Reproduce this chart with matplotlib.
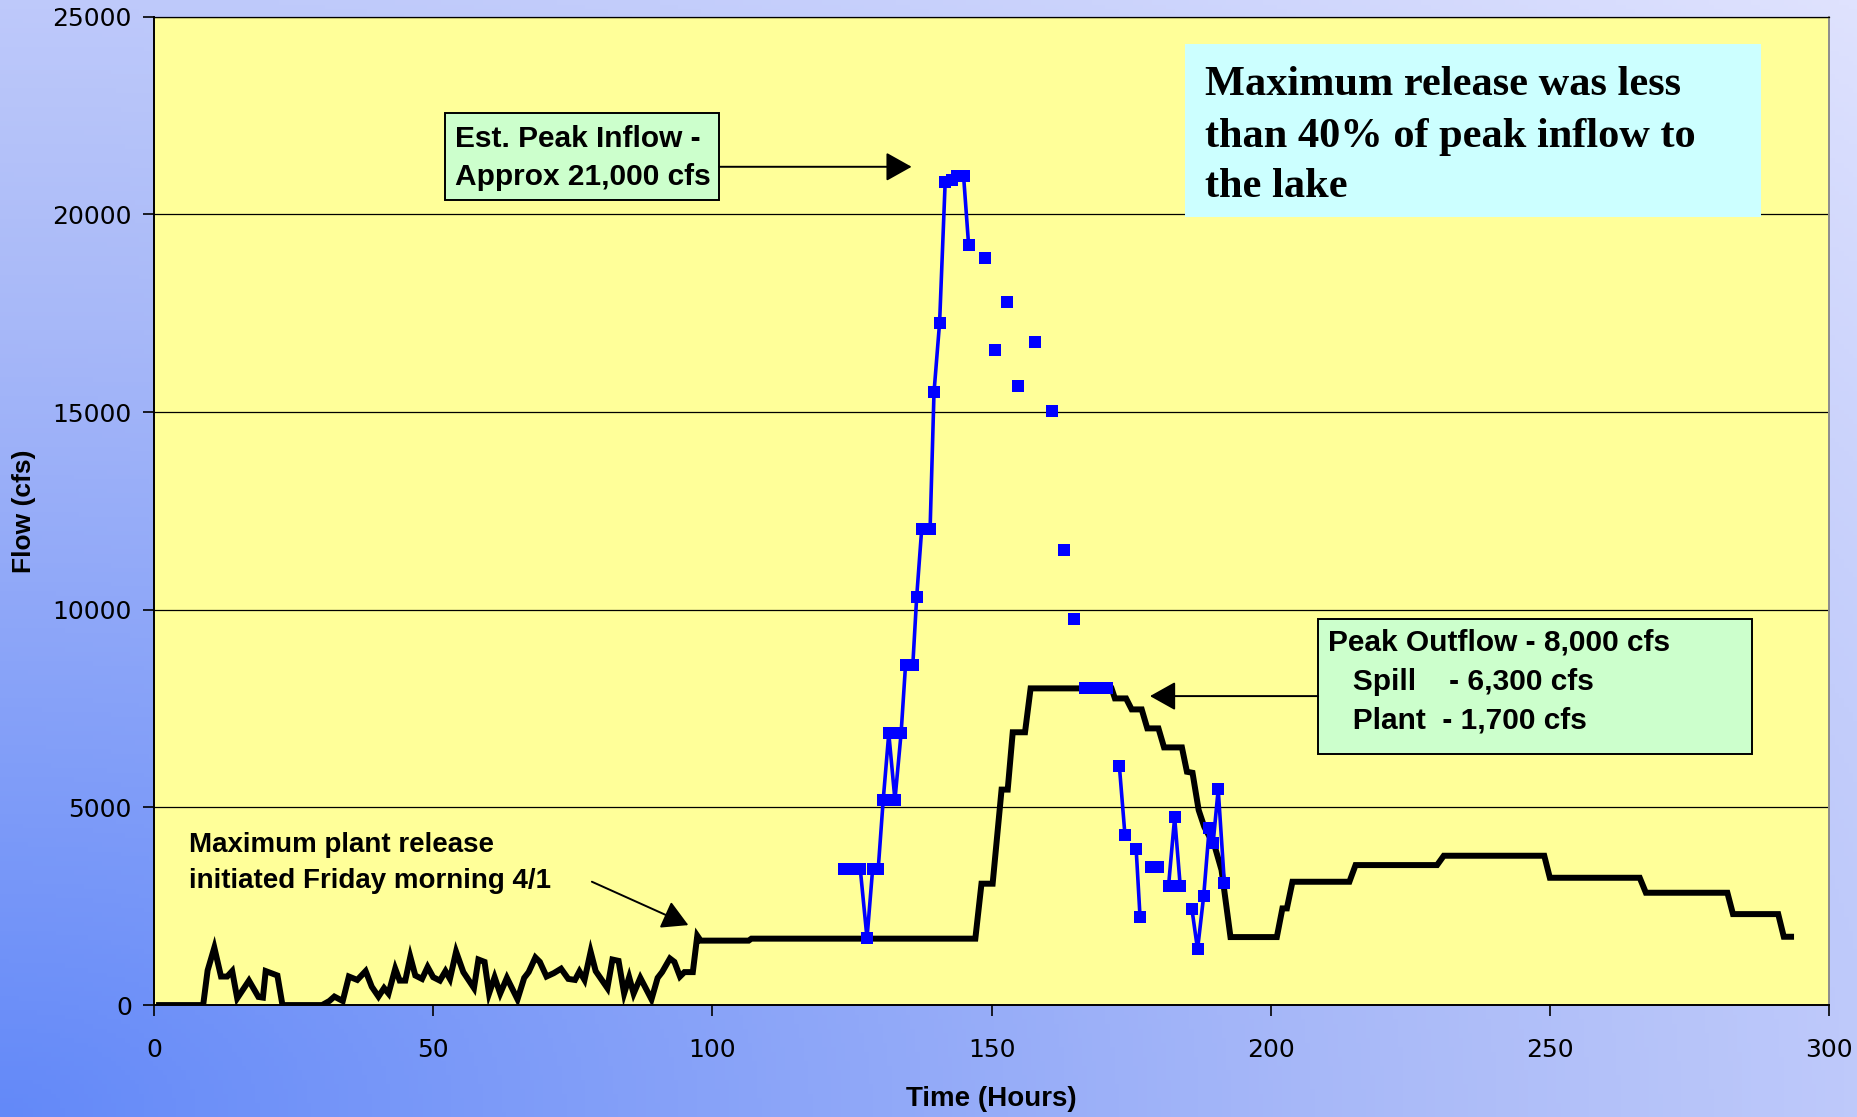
"""Lake inflow vs. outflow hydrograph with annotation boxes."""

from __future__ import annotations

import matplotlib

matplotlib.use("Agg")

import matplotlib.pyplot as plt
import numpy as np
from matplotlib.colors import LinearSegmentedColormap
from matplotlib.patches import Rectangle

# Outflow (plant + spill), hours vs cfs
outflow_hours = [
    0.9, 8.8, 9.6, 10.8, 12.0, 13.1, 14.0, 14.9, 17.0, 18.7, 19.5, 20.0, 22.1, 23.0,
    30.1, 31.4, 32.3, 33.8, 34.9, 36.4, 37.9, 39.0, 40.2, 41.2, 42.0, 43.2, 44.0, 45.0,
    45.9, 46.8, 48.0, 49.0, 50.0, 51.2, 52.2, 53.0, 54.1, 55.4, 57.3, 58.1, 59.2, 60.0,
    61.0, 62.0, 63.2, 65.1, 66.3, 67.1, 68.3, 69.1, 70.3, 71.6, 72.9, 74.2, 75.4, 76.2,
    77.1, 78.2, 79.1, 81.2, 82.1, 83.2, 84.2, 85.1, 85.9, 87.1, 89.1, 90.2, 91.0, 92.4,
    93.2, 94.2, 95.0, 96.5, 97.3, 97.9, 106.5, 107.0, 147.1, 148.2, 150.2, 151.8, 152.9,
    153.8, 156.0, 157.0, 171.5, 172.1, 174.1, 175.1, 176.9, 177.9, 179.9, 180.9, 184.1,
    185.0, 186.0, 187.1, 188.1, 190.0, 191.2, 192.8, 201.1, 202.1, 202.9, 203.9, 214.1,
    215.2, 229.8, 231.0, 249.0, 250.0, 266.1, 267.2, 281.8, 282.8, 290.9, 291.9, 293.2,
]
outflow_cfs = [
    0, 0, 877, 1453, 722, 722, 860, 172, 619, 206, 189, 860, 748, 0,
    0, 103, 215, 103, 722, 636, 860, 464, 215, 430, 292, 920, 619, 619,
    1221, 748, 662, 963, 705, 619, 860, 662, 1350, 834, 430, 1152, 1092, 292,
    705, 292, 688, 146, 688, 834, 1204, 1092, 722, 808, 920, 662, 636, 851,
    636, 1350, 860, 430, 1152, 1118, 292, 705, 292, 688, 146, 688, 834, 1178,
    1092, 722, 834, 834, 1754, 1630, 1630, 1680, 1680, 3070, 3070, 5450, 5450,
    6900, 6900, 8010, 8010, 7756, 7756, 7478, 7478, 6998, 6998, 6517, 6517,
    5901, 5875, 4932, 4510, 4003, 3414, 1720, 1720, 2445, 2445, 3119, 3119,
    3541, 3541, 3777, 3777, 3220, 3220, 2841, 2841, 2301, 2301, 1728, 1728,
]

# Estimated inflow; NaN separates unconnected groups of points
inflow_hours = [
    123.6, 125.0, 126.5, 127.7, 128.7, 129.7, 130.6, 131.6, 132.7, 133.8, 134.6, 135.9,
    136.6, 137.5, 139.0, 139.7, 140.7, 141.7, 142.9, 143.9, 145.0, 145.9, np.nan,
    148.8, np.nan, 150.6, np.nan, 152.7, np.nan, 154.7, np.nan, 157.8, np.nan,
    160.9, np.nan, 162.9, np.nan, 164.7, np.nan,
    166.8, 168.1, 169.4, 170.7, np.nan,
    172.9, 173.9, np.nan, 175.9, 176.6, np.nan, 178.5, 179.9, np.nan,
    181.7, 182.8, 183.8, np.nan,
    185.9, 186.9, 188.0, 189.0, 189.7, 190.6, 191.7,
]
inflow_cfs = [
    3430, 3430, 3430, 1690, 3430, 3430, 5190, 6870, 5190, 6870, 8600, 8600,
    10330, 12050, 12050, 15500, 17260, 20820, 20880, 20960, 20960, 19220, np.nan,
    18890, np.nan, 16580, np.nan, 17790, np.nan, 15660, np.nan, 16770, np.nan,
    15030, np.nan, 11510, np.nan, 9770, np.nan,
    8030, 8030, 8030, 8030, np.nan,
    6040, 4300, np.nan, 3960, 2230, np.nan, 3480, 3480, np.nan,
    3010, 4750, 3010, np.nan,
    2420, 1410, 2760, 4490, 4110, 5460, 3090,
]

x_ticks = [0, 50, 100, 150, 200, 250, 300]
y_ticks = [0, 5000, 10000, 15000, 20000, 25000]

SANS = "Liberation Sans"
SERIF = "Liberation Serif"


def draw_background(fig: plt.Figure) -> None:
    """Blue gradient behind the plot, darkest at the lower left."""

    bg = fig.add_axes([0, 0, 1, 1], zorder=-10)
    bg.set_axis_off()
    xx, yy = np.meshgrid(np.linspace(0, 1, 400), np.linspace(0, 1, 240))
    t = np.clip(np.sqrt(xx**2 + yy**2) / np.sqrt(2), 0, 1)
    cmap = LinearSegmentedColormap.from_list("bg", ["#6389f8", "#a7b8f8", "#dfe2fe"])
    bg.imshow(t, cmap=cmap, origin="lower", aspect="auto", extent=[0, 1, 0, 1])


def add_box(ax, left, bottom, right, top, face, edge=True):
    """Rectangle in axes-fraction coordinates."""

    ax.add_patch(
        Rectangle(
            (left, bottom),
            right - left,
            top - bottom,
            transform=ax.transAxes,
            facecolor=face,
            edgecolor="black" if edge else "none",
            linewidth=1.4,
            zorder=6,
            clip_on=False,
        )
    )


def add_arrow(ax, start, tip):
    """Thin black arrow with a filled head."""

    ax.annotate(
        "",
        xy=tip,
        xytext=start,
        xycoords="axes fraction",
        textcoords="axes fraction",
        arrowprops=dict(
            arrowstyle="-|>,head_length=0.5,head_width=0.28",
            mutation_scale=32,
            lw=1.4,
            color="black",
            shrinkA=0,
            shrinkB=0,
        ),
        zorder=7,
    )


def main() -> None:
    """Build the hydrograph."""

    fig = plt.figure(figsize=(18.58, 11.17), dpi=100)
    draw_background(fig)
    ax = fig.add_axes([0.0829, 0.1002, 0.9015, 0.8849])
    ax.set_facecolor("#ffff99")

    ax.plot(outflow_hours, outflow_cfs, color="black", lw=4.3, solid_joinstyle="miter", zorder=3)
    ax.plot(
        inflow_hours,
        inflow_cfs,
        color="#0000ff",
        lw=2.6,
        marker="s",
        markersize=8.5,
        markeredgewidth=0,
        zorder=4,
    )

    ax.set_xlim(0, 300)
    ax.set_ylim(0, 25000)
    ax.set_xticks(x_ticks)
    ax.set_yticks(y_ticks)
    ax.yaxis.grid(True, color="black", lw=0.9)
    ax.set_axisbelow(True)
    ax.tick_params(axis="both", direction="out", length=8, width=1.2, labelsize=18, colors="black")
    ax.tick_params(axis="x", pad=16)
    ax.tick_params(axis="y", pad=8)
    for side in ("left", "bottom"):
        ax.spines[side].set_color("black")
        ax.spines[side].set_linewidth(1.4)
    ax.spines["right"].set_color("#8c8c8c")
    ax.spines["right"].set_linewidth(1.4)
    ax.spines["top"].set_color("black")
    ax.spines["top"].set_linewidth(0.9)

    ax.set_xlabel("Time (Hours)", family=SANS, fontweight="bold", fontsize=20, labelpad=17)
    ax.set_ylabel("Flow (cfs)", family=SANS, fontweight="bold", fontsize=19, labelpad=12)

    # Peak inflow box
    add_box(ax, 0.1737, 0.8145, 0.3375, 0.9022, "#ccffcc")
    for text, y in (("Est. Peak Inflow -", 0.8684), ("Approx 21,000 cfs", 0.8297)):
        ax.text(0.1797, y, text, transform=ax.transAxes, family=SANS, fontweight="bold",
                fontsize=21.5, va="baseline", zorder=8)
    add_arrow(ax, (0.3375, 0.8481), (0.4523, 0.8481))

    # Headline box
    add_box(ax, 0.6153, 0.7970, 0.9594, 0.9723, "#ccffff", edge=False)
    headline = ["Maximum release was less", "than 40% of peak inflow to", "the lake"]
    for text, y in zip(headline, (0.9209, 0.8681, 0.8178)):
        ax.text(0.6274, y, text, transform=ax.transAxes, family=SERIF, fontweight="bold",
                fontsize=30.5, va="baseline", zorder=8)

    # Peak outflow box
    add_box(ax, 0.6950, 0.2540, 0.9540, 0.3910, "#ccffcc")
    outflow_lines = ["Peak Outflow - 8,000 cfs", "   Spill    - 6,300 cfs", "   Plant  - 1,700 cfs"]
    for text, y in zip(outflow_lines, (0.3590, 0.3190, 0.2800)):
        ax.text(0.7010, y, text, transform=ax.transAxes, family=SANS, fontweight="bold",
                fontsize=21.5, va="baseline", zorder=8)
    add_arrow(ax, (0.6950, 0.3126), (0.5946, 0.3126))

    # Plant release note
    for text, y in (("Maximum plant release", 0.1551), ("initiated Friday morning 4/1", 0.1181)):
        ax.text(0.0209, y, text, transform=ax.transAxes, family=SANS, fontweight="bold",
                fontsize=20, va="baseline", zorder=8)
    add_arrow(ax, (0.2614, 0.1248), (0.3190, 0.0809))

    fig.savefig("out.png", dpi=100)
    plt.close(fig)


if __name__ == "__main__":
    main()
